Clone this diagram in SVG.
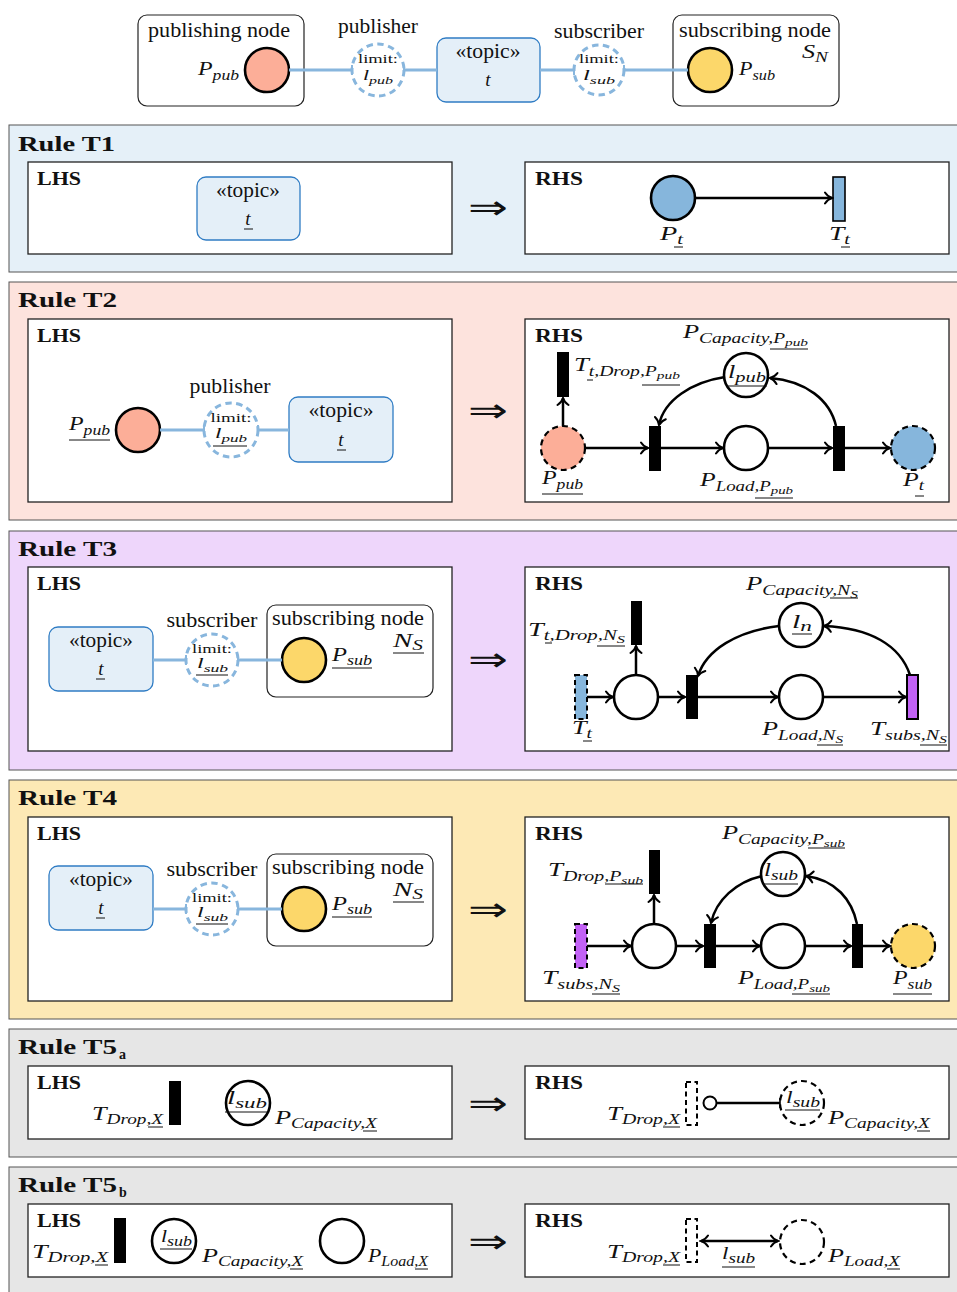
<svg xmlns="http://www.w3.org/2000/svg" width="957" height="1292" viewBox="0 0 957 1292">
<style>
  .r{font-family:"Liberation Serif","Times New Roman",serif;font-size:20px;fill:#111}
  .m{font-family:"Liberation Serif","Times New Roman",serif;font-size:19px;font-style:italic;fill:#111}
  .ms{font-size:15px}
  .s1{font-size:14px}
  .s2{font-size:11px}
  .lim{font-family:"Liberation Serif","Times New Roman",serif;font-size:13px;fill:#111}
  .h{font-family:"Liberation Serif","Times New Roman",serif;font-size:22px;font-weight:bold;fill:#111}
  .lh{font-family:"Liberation Serif","Times New Roman",serif;font-size:18px;font-weight:bold;fill:#111}
  .imp{font-family:"DejaVu Sans",sans-serif;font-size:34px;fill:#111}
  .sec{stroke:#555;stroke-width:1}
  .box{fill:#fff;stroke:#222;stroke-width:1.3}
  .node{fill:#fff;stroke:#222;stroke-width:1.2}
  .topic{fill:#e4eff8;stroke:#2f7cc4;stroke-width:1.3}
  .pl{stroke:#000;stroke-width:2.6}
  .pld{stroke:#000;stroke-width:2.2;stroke-dasharray:6 4.2}
  .tr{fill:#000}
  .trd{stroke:#000;stroke-width:2;stroke-dasharray:5 3.5}
  .lim-c{fill:#fff;stroke:#88b6dd;stroke-width:3;stroke-dasharray:6.5 4.5}
  .bl{stroke:#88b6dd;stroke-width:3;fill:none}
  .tick{stroke:#88b6dd;stroke-width:2}
  .arc{stroke:#000;stroke-width:2.5;fill:none;marker-end:url(#ah)}
  .ul{stroke:#111;stroke-width:1}
  .pub{fill:#fcae98}
  .sub{fill:#fcd76a}
  .top{fill:#86b6dc}
  .prp{fill:#c262f5}
</style>
<defs>
  <marker id="ah" viewBox="-9 -7 11 14" refX="0" refY="0" markerWidth="11" markerHeight="14" markerUnits="userSpaceOnUse" orient="auto-start-reverse">
    <path d="M-7,-5.5 C-5,-2.5 -2,-0.6 0,0 C-2,0.6 -5,2.5 -7,5.5" fill="none" stroke="#000" stroke-width="2" stroke-linecap="round"/>
  </marker>
</defs>

<rect width="957" height="1292" fill="#fff"/>

<!-- ===== legend: publisher / topic / subscriber ===== -->
<g id="legend">
  <g id="publishing-node">
    <rect class="node" x="138" y="15" width="166" height="91" rx="9"/>
    <text class="r" x="219" y="37" text-anchor="middle" textLength="142" lengthAdjust="spacingAndGlyphs">publishing node</text>
    <circle class="pub pl" cx="267" cy="70" r="22"/>
    <text class="m" x="198" y="75" textLength="41" lengthAdjust="spacingAndGlyphs">P<tspan class="s1" dy="5">pub</tspan></text>
  </g>
  <g id="publisher">
    <text class="r" x="378" y="33" text-anchor="middle" textLength="80" lengthAdjust="spacingAndGlyphs">publisher</text>
    <circle class="lim-c" cx="378" cy="70" r="26"/>
    <text class="lim" x="378" y="63" text-anchor="middle" textLength="40" lengthAdjust="spacingAndGlyphs">limit:</text>
    <text class="m ms" x="363" y="80" textLength="30" lengthAdjust="spacingAndGlyphs">l<tspan class="s2" dy="4">pub</tspan></text>
  </g>
  <g id="topic">
    <rect class="topic" x="437" y="38" width="103" height="64" rx="9"/>
    <text class="r" x="488" y="58" text-anchor="middle" textLength="65" lengthAdjust="spacingAndGlyphs">«topic»</text>
    <text class="m" x="488" y="86" text-anchor="middle">t</text>
  </g>
  <g id="subscriber">
    <text class="r" x="599" y="38" text-anchor="middle" textLength="90" lengthAdjust="spacingAndGlyphs">subscriber</text>
    <circle class="lim-c" cx="599" cy="70" r="25"/>
    <text class="lim" x="599" y="63" text-anchor="middle" textLength="40" lengthAdjust="spacingAndGlyphs">limit:</text>
    <text class="m ms" x="583" y="80" textLength="32" lengthAdjust="spacingAndGlyphs">l<tspan class="s2" dy="4">sub</tspan></text>
  </g>
  <g id="subscribing-node">
    <rect class="node" x="673" y="15" width="166" height="91" rx="9"/>
    <text class="r" x="755" y="37" text-anchor="middle" textLength="152" lengthAdjust="spacingAndGlyphs">subscribing node</text>
    <text class="m" x="802" y="58" textLength="26" lengthAdjust="spacingAndGlyphs">S<tspan class="s1" dy="4">N</tspan></text>
    <circle class="sub pl" cx="710" cy="70" r="22"/>
    <text class="m" x="739" y="75" textLength="36" lengthAdjust="spacingAndGlyphs">P<tspan class="s1" dy="5">sub</tspan></text>
  </g>
  <g id="legend-connectors">
    <line class="bl" x1="289" y1="70" x2="352" y2="70"/><line class="tick" x1="352" y1="65" x2="352" y2="75"/>
    <line class="bl" x1="404" y1="70" x2="437" y2="70"/><line class="tick" x1="404" y1="65" x2="404" y2="75"/>
    <line class="bl" x1="540" y1="70" x2="574" y2="70"/><line class="tick" x1="574" y1="65" x2="574" y2="75"/>
    <line class="bl" x1="624" y1="70" x2="688" y2="70"/><line class="tick" x1="624" y1="65" x2="624" y2="75"/>
  </g>
</g>

<!-- ===== Rule T1 ===== -->
<g id="rule-t1">
  <rect class="sec" x="9" y="125" width="960" height="147" fill="#e5f0f8"/>
  <text class="h" x="18" y="151" textLength="97" lengthAdjust="spacingAndGlyphs">Rule T1</text>
  <rect class="box" x="28" y="162" width="424" height="92"/>
  <text class="lh" x="37" y="185" textLength="44" lengthAdjust="spacingAndGlyphs">LHS</text>
  <g id="t1-topic">
    <rect class="topic" x="197" y="177" width="103" height="63" rx="9"/>
    <text class="r" x="248" y="197" text-anchor="middle" textLength="64" lengthAdjust="spacingAndGlyphs">«topic»</text>
    <text class="m" x="248" y="225" text-anchor="middle">t</text>
    <line class="ul" x1="244" y1="229" x2="253" y2="229"/>
  </g>
  <text class="imp" x="488" y="219" text-anchor="middle" textLength="40" lengthAdjust="spacingAndGlyphs">⇒</text>
  <rect class="box" x="525" y="162" width="424" height="92"/>
  <text class="lh" x="535" y="185" textLength="48" lengthAdjust="spacingAndGlyphs">RHS</text>
  <g id="t1-place-t">
    <circle class="top pl" cx="673" cy="198" r="22"/>
    <text class="m" x="660" y="240" textLength="23" lengthAdjust="spacingAndGlyphs">P<tspan class="s1" dy="4">t</tspan></text>
    <line class="ul" x1="674" y1="247" x2="683" y2="247"/>
  </g>
  <g id="t1-trans-t">
    <rect class="top" x="833" y="177" width="12" height="44" stroke="#000" stroke-width="1.6"/>
    <text class="m" x="829" y="240" textLength="21" lengthAdjust="spacingAndGlyphs">T<tspan class="s1" dy="4">t</tspan></text>
    <line class="ul" x1="841" y1="247" x2="850" y2="247"/>
  </g>
  <g id="t1-connectors">
    <line class="arc" x1="695" y1="198" x2="832" y2="198"/>
  </g>
</g>

<!-- ===== Rule T2 ===== -->
<g id="rule-t2">
  <rect class="sec" x="9" y="282" width="960" height="238" fill="#fde3dd"/>
  <text class="h" x="18" y="307" textLength="99" lengthAdjust="spacingAndGlyphs">Rule T2</text>
  <rect class="box" x="28" y="319" width="424" height="183"/>
  <text class="lh" x="37" y="342" textLength="44" lengthAdjust="spacingAndGlyphs">LHS</text>
  <g id="t2-pub">
    <circle class="pub pl" cx="138" cy="430" r="22"/>
    <text class="m" x="69" y="430" textLength="41" lengthAdjust="spacingAndGlyphs">P<tspan class="s1" dy="5">pub</tspan></text>
    <line class="ul" x1="69" y1="440" x2="110" y2="440"/>
  </g>
  <g id="t2-publisher">
    <text class="r" x="230" y="393" text-anchor="middle" textLength="81" lengthAdjust="spacingAndGlyphs">publisher</text>
    <circle class="lim-c" cx="231" cy="430" r="27"/>
    <text class="lim" x="231" y="422" text-anchor="middle" textLength="41" lengthAdjust="spacingAndGlyphs">limit:</text>
    <text class="m ms" x="215" y="438" textLength="32" lengthAdjust="spacingAndGlyphs">l<tspan class="s2" dy="4">pub</tspan></text>
    <line class="ul" x1="213" y1="446" x2="247" y2="446"/>
  </g>
  <g id="t2-topic">
    <rect class="topic" x="289" y="397" width="104" height="65" rx="9"/>
    <text class="r" x="341" y="417" text-anchor="middle" textLength="65" lengthAdjust="spacingAndGlyphs">«topic»</text>
    <text class="m" x="341" y="446" text-anchor="middle">t</text>
    <line class="ul" x1="337" y1="450" x2="346" y2="450"/>
  </g>
  <g id="t2-lhs-connectors">
    <line class="bl" x1="160" y1="430" x2="204" y2="430"/><line class="tick" x1="204" y1="425" x2="204" y2="435"/>
    <line class="bl" x1="258" y1="430" x2="289" y2="430"/><line class="tick" x1="258" y1="425" x2="258" y2="435"/>
  </g>
  <text class="imp" x="488" y="422" text-anchor="middle" textLength="40" lengthAdjust="spacingAndGlyphs">⇒</text>
  <rect class="box" x="525" y="319" width="424" height="183"/>
  <text class="lh" x="535" y="342" textLength="48" lengthAdjust="spacingAndGlyphs">RHS</text>
  <g id="t2-drop">
    <rect class="tr" x="557" y="352" width="12" height="45"/>
    <text class="m" x="574" y="371" textLength="106" lengthAdjust="spacingAndGlyphs">T<tspan class="s1" dy="5">t,Drop,P</tspan><tspan class="s2" dy="3">pub</tspan></text>
    <line class="ul" x1="587" y1="380" x2="593" y2="380"/>
    <line class="ul" x1="642" y1="385" x2="680" y2="385"/>
  </g>
  <g id="t2-p-pub">
    <circle class="pub pld" cx="563" cy="448" r="22"/>
    <text class="m" x="542" y="484" textLength="41" lengthAdjust="spacingAndGlyphs">P<tspan class="s1" dy="5">pub</tspan></text>
    <line class="ul" x1="542" y1="494" x2="583" y2="494"/>
  </g>
  <g id="t2-trans-in"><rect class="tr" x="649" y="426" width="12" height="45"/></g>
  <g id="t2-load">
    <circle class="pl" fill="#fff" cx="746" cy="448" r="22"/>
    <text class="m" x="700" y="486" textLength="93" lengthAdjust="spacingAndGlyphs">P<tspan class="s1" dy="5">Load,P</tspan><tspan class="s2" dy="3">pub</tspan></text>
    <line class="ul" x1="755" y1="498" x2="793" y2="498"/>
  </g>
  <g id="t2-capacity">
    <circle class="pl" fill="#fff" cx="746" cy="375" r="22"/>
    <text class="m" x="683" y="338" textLength="125" lengthAdjust="spacingAndGlyphs">P<tspan class="s1" dy="5">Capacity,P</tspan><tspan class="s2" dy="3">pub</tspan></text>
    <line class="ul" x1="770" y1="349" x2="808" y2="349"/>
    <text class="m" x="728" y="378" style="font-size:18px" textLength="38" lengthAdjust="spacingAndGlyphs">l<tspan class="s1" dy="4">pub</tspan></text>
    <line class="ul" x1="727" y1="386" x2="767" y2="386"/>
  </g>
  <g id="t2-trans-out"><rect class="tr" x="833" y="426" width="12" height="45"/></g>
  <g id="t2-p-t">
    <circle class="top pld" cx="913" cy="448" r="22"/>
    <text class="m" x="903" y="486" textLength="21" lengthAdjust="spacingAndGlyphs">P<tspan class="s1" dy="4">t</tspan></text>
    <line class="ul" x1="915" y1="496" x2="924" y2="496"/>
  </g>
  <g id="t2-connectors">
    <line class="arc" x1="563" y1="426" x2="563" y2="398"/>
    <line class="arc" x1="585" y1="448" x2="648" y2="448"/>
    <line class="arc" x1="661" y1="448" x2="723" y2="448"/>
    <line class="arc" x1="768" y1="448" x2="832" y2="448"/>
    <line class="arc" x1="845" y1="448" x2="890" y2="448"/>
    <path class="arc" d="M725,377 C692,382 664,400 659,425"/>
    <path class="arc" d="M836,426 C830,400 806,381 770,378"/>
  </g>
</g>

<!-- ===== Rule T3 ===== -->
<g id="rule-t3">
  <rect class="sec" x="9" y="531" width="960" height="239" fill="#eed6fb"/>
  <text class="h" x="18" y="556" textLength="99" lengthAdjust="spacingAndGlyphs">Rule T3</text>
  <rect class="box" x="28" y="567" width="424" height="184"/>
  <text class="lh" x="37" y="590" textLength="44" lengthAdjust="spacingAndGlyphs">LHS</text>
  <g id="t3-topic">
    <rect class="topic" x="49" y="627" width="104" height="64" rx="9"/>
    <text class="r" x="101" y="647" text-anchor="middle" textLength="64" lengthAdjust="spacingAndGlyphs">«topic»</text>
    <text class="m" x="101" y="675" text-anchor="middle">t</text>
    <line class="ul" x1="96" y1="679" x2="105" y2="679"/>
  </g>
  <g id="t3-subscriber">
    <text class="r" x="212" y="627" text-anchor="middle" textLength="91" lengthAdjust="spacingAndGlyphs">subscriber</text>
    <circle class="lim-c" cx="212" cy="660" r="26"/>
    <text class="lim" x="212" y="653" text-anchor="middle" textLength="40" lengthAdjust="spacingAndGlyphs">limit:</text>
    <text class="m ms" x="197" y="668" textLength="31" lengthAdjust="spacingAndGlyphs">l<tspan class="s2" dy="4">sub</tspan></text>
    <line class="ul" x1="196" y1="675" x2="228" y2="675"/>
  </g>
  <g id="t3-subscribing-node">
    <rect class="node" x="267" y="605" width="166" height="92" rx="9"/>
    <text class="r" x="348" y="625" text-anchor="middle" textLength="152" lengthAdjust="spacingAndGlyphs">subscribing node</text>
    <text class="m" x="393" y="647" textLength="30" lengthAdjust="spacingAndGlyphs">N<tspan class="s1" dy="3">S</tspan></text>
    <line class="ul" x1="393" y1="653" x2="424" y2="653"/>
    <circle class="sub pl" cx="304" cy="660" r="22"/>
    <text class="m" x="332" y="661" textLength="40" lengthAdjust="spacingAndGlyphs">P<tspan class="s1" dy="4">sub</tspan></text>
    <line class="ul" x1="332" y1="668" x2="372" y2="668"/>
  </g>
  <g id="t3-lhs-connectors">
    <line class="bl" x1="153" y1="660" x2="186" y2="660"/><line class="tick" x1="186" y1="655" x2="186" y2="665"/>
    <line class="bl" x1="238" y1="660" x2="282" y2="660"/><line class="tick" x1="238" y1="655" x2="238" y2="665"/>
  </g>
  <text class="imp" x="488" y="671" text-anchor="middle" textLength="40" lengthAdjust="spacingAndGlyphs">⇒</text>
  <rect class="box" x="525" y="567" width="424" height="184"/>
  <text class="lh" x="535" y="590" textLength="48" lengthAdjust="spacingAndGlyphs">RHS</text>
  <g id="t3-trans-t">
    <rect class="top trd" x="575" y="675" width="12" height="44"/>
    <text class="m" x="572" y="734" textLength="20" lengthAdjust="spacingAndGlyphs">T<tspan class="s1" dy="4">t</tspan></text>
    <line class="ul" x1="583" y1="741" x2="592" y2="741"/>
  </g>
  <g id="t3-buffer"><circle class="pl" fill="#fff" cx="636" cy="697" r="22"/></g>
  <g id="t3-drop">
    <rect class="tr" x="631" y="601" width="11" height="44"/>
    <text class="m" x="528" y="636" textLength="97" lengthAdjust="spacingAndGlyphs">T<tspan class="s1" dy="4">t,Drop,N</tspan><tspan class="s2" dy="3">S</tspan></text>
    <line class="ul" x1="545" y1="643" x2="552" y2="643"/>
    <line class="ul" x1="597" y1="646" x2="625" y2="646"/>
  </g>
  <g id="t3-trans-in"><rect class="tr" x="686" y="675" width="12" height="44"/></g>
  <g id="t3-load">
    <circle class="pl" fill="#fff" cx="801" cy="697" r="22"/>
    <text class="m" x="762" y="735" textLength="81" lengthAdjust="spacingAndGlyphs">P<tspan class="s1" dy="5">Load,N</tspan><tspan class="s2" dy="3">S</tspan></text>
    <line class="ul" x1="817" y1="745" x2="843" y2="745"/>
  </g>
  <g id="t3-capacity">
    <circle class="pl" fill="#fff" cx="801" cy="625" r="22"/>
    <text class="m" x="746" y="590" textLength="112" lengthAdjust="spacingAndGlyphs">P<tspan class="s1" dy="5">Capacity,N</tspan><tspan class="s2" dy="3">S</tspan></text>
    <line class="ul" x1="830" y1="598" x2="858" y2="598"/>
    <text class="m" x="792" y="628" style="font-size:18px" textLength="20" lengthAdjust="spacingAndGlyphs">l<tspan class="s1" dy="3">n</tspan></text>
    <line class="ul" x1="792" y1="634" x2="812" y2="634"/>
  </g>
  <g id="t3-subs">
    <rect class="prp" x="907" y="675" width="11" height="44" stroke="#000" stroke-width="2"/>
    <text class="m" x="870" y="735" textLength="77" lengthAdjust="spacingAndGlyphs">T<tspan class="s1" dy="5">subs,N</tspan><tspan class="s2" dy="3">S</tspan></text>
    <line class="ul" x1="920" y1="745" x2="947" y2="745"/>
  </g>
  <g id="t3-connectors">
    <line class="arc" x1="587" y1="697" x2="613" y2="697"/>
    <line class="arc" x1="636" y1="675" x2="636" y2="646"/>
    <line class="arc" x1="658" y1="697" x2="685" y2="697"/>
    <line class="arc" x1="698" y1="697" x2="778" y2="697"/>
    <line class="arc" x1="823" y1="697" x2="906" y2="697"/>
    <path class="arc" d="M779,626 C737,631 706,650 698,676"/>
    <path class="arc" d="M910,675 C900,645 870,628 824,626"/>
  </g>
</g>

<!-- ===== Rule T4 ===== -->
<g id="rule-t4">
  <rect class="sec" x="9" y="780" width="960" height="239" fill="#fde9b5"/>
  <text class="h" x="18" y="805" textLength="99" lengthAdjust="spacingAndGlyphs">Rule T4</text>
  <rect class="box" x="28" y="817" width="424" height="184"/>
  <text class="lh" x="37" y="840" textLength="44" lengthAdjust="spacingAndGlyphs">LHS</text>
  <g id="t4-topic">
    <rect class="topic" x="49" y="866" width="104" height="64" rx="9"/>
    <text class="r" x="101" y="886" text-anchor="middle" textLength="64" lengthAdjust="spacingAndGlyphs">«topic»</text>
    <text class="m" x="101" y="914" text-anchor="middle">t</text>
    <line class="ul" x1="96" y1="918" x2="105" y2="918"/>
  </g>
  <g id="t4-subscriber">
    <text class="r" x="212" y="876" text-anchor="middle" textLength="91" lengthAdjust="spacingAndGlyphs">subscriber</text>
    <circle class="lim-c" cx="212" cy="909" r="26"/>
    <text class="lim" x="212" y="902" text-anchor="middle" textLength="40" lengthAdjust="spacingAndGlyphs">limit:</text>
    <text class="m ms" x="197" y="917" textLength="31" lengthAdjust="spacingAndGlyphs">l<tspan class="s2" dy="4">sub</tspan></text>
    <line class="ul" x1="196" y1="924" x2="228" y2="924"/>
  </g>
  <g id="t4-subscribing-node">
    <rect class="node" x="267" y="854" width="166" height="92" rx="9"/>
    <text class="r" x="348" y="874" text-anchor="middle" textLength="152" lengthAdjust="spacingAndGlyphs">subscribing node</text>
    <text class="m" x="393" y="896" textLength="30" lengthAdjust="spacingAndGlyphs">N<tspan class="s1" dy="3">S</tspan></text>
    <line class="ul" x1="393" y1="902" x2="424" y2="902"/>
    <circle class="sub pl" cx="304" cy="909" r="22"/>
    <text class="m" x="332" y="910" textLength="40" lengthAdjust="spacingAndGlyphs">P<tspan class="s1" dy="4">sub</tspan></text>
    <line class="ul" x1="332" y1="917" x2="372" y2="917"/>
  </g>
  <g id="t4-lhs-connectors">
    <line class="bl" x1="153" y1="909" x2="186" y2="909"/><line class="tick" x1="186" y1="904" x2="186" y2="914"/>
    <line class="bl" x1="238" y1="909" x2="282" y2="909"/><line class="tick" x1="238" y1="904" x2="238" y2="914"/>
  </g>
  <text class="imp" x="488" y="921" text-anchor="middle" textLength="40" lengthAdjust="spacingAndGlyphs">⇒</text>
  <rect class="box" x="525" y="817" width="424" height="184"/>
  <text class="lh" x="535" y="840" textLength="48" lengthAdjust="spacingAndGlyphs">RHS</text>
  <g id="t4-subs">
    <rect class="prp trd" x="575" y="924" width="12" height="44"/>
    <text class="m" x="542" y="984" textLength="78" lengthAdjust="spacingAndGlyphs">T<tspan class="s1" dy="5">subs,N</tspan><tspan class="s2" dy="3">S</tspan></text>
    <line class="ul" x1="592" y1="994" x2="620" y2="994"/>
  </g>
  <g id="t4-buffer"><circle class="pl" fill="#fff" cx="654" cy="946" r="22"/></g>
  <g id="t4-drop">
    <rect class="tr" x="649" y="850" width="11" height="44"/>
    <text class="m" x="548" y="876" textLength="95" lengthAdjust="spacingAndGlyphs">T<tspan class="s1" dy="5">Drop,P</tspan><tspan class="s2" dy="3">sub</tspan></text>
    <line class="ul" x1="605" y1="884" x2="643" y2="884"/>
  </g>
  <g id="t4-trans-in"><rect class="tr" x="704" y="924" width="12" height="44"/></g>
  <g id="t4-load">
    <circle class="pl" fill="#fff" cx="783" cy="946" r="22"/>
    <text class="m" x="738" y="984" textLength="92" lengthAdjust="spacingAndGlyphs">P<tspan class="s1" dy="5">Load,P</tspan><tspan class="s2" dy="3">sub</tspan></text>
    <line class="ul" x1="792" y1="994" x2="830" y2="994"/>
  </g>
  <g id="t4-capacity">
    <circle class="pl" fill="#fff" cx="783" cy="874" r="22"/>
    <text class="m" x="722" y="839" textLength="123" lengthAdjust="spacingAndGlyphs">P<tspan class="s1" dy="5">Capacity,P</tspan><tspan class="s2" dy="3">sub</tspan></text>
    <line class="ul" x1="808" y1="848" x2="845" y2="848"/>
    <text class="m" x="764" y="876" style="font-size:18px" textLength="34" lengthAdjust="spacingAndGlyphs">l<tspan class="s1" dy="4">sub</tspan></text>
    <line class="ul" x1="763" y1="884" x2="798" y2="884"/>
  </g>
  <g id="t4-trans-out"><rect class="tr" x="852" y="924" width="11" height="44"/></g>
  <g id="t4-p-sub">
    <circle class="sub pld" cx="913" cy="946" r="22"/>
    <text class="m" x="893" y="984" textLength="39" lengthAdjust="spacingAndGlyphs">P<tspan class="s1" dy="5">sub</tspan></text>
    <line class="ul" x1="893" y1="994" x2="932" y2="994"/>
  </g>
  <g id="t4-connectors">
    <line class="arc" x1="587" y1="946" x2="631" y2="946"/>
    <line class="arc" x1="654" y1="924" x2="654" y2="895"/>
    <line class="arc" x1="676" y1="946" x2="703" y2="946"/>
    <line class="arc" x1="716" y1="946" x2="760" y2="946"/>
    <line class="arc" x1="805" y1="946" x2="851" y2="946"/>
    <line class="arc" x1="863" y1="946" x2="890" y2="946"/>
    <path class="arc" d="M762,876 C736,882 716,900 711,923"/>
    <path class="arc" d="M857,924 C852,900 836,880 806,876"/>
  </g>
</g>

<!-- ===== Rule T5a ===== -->
<g id="rule-t5a">
  <rect class="sec" x="9" y="1029" width="960" height="128" fill="#e6e6e6"/>
  <text class="h" x="18" y="1054" textLength="99" lengthAdjust="spacingAndGlyphs">Rule T5</text>
  <text class="h" x="119" y="1059" style="font-size:14px">a</text>
  <rect class="box" x="28" y="1066" width="424" height="73"/>
  <text class="lh" x="37" y="1089" textLength="44" lengthAdjust="spacingAndGlyphs">LHS</text>
  <g id="t5a-drop">
    <rect class="tr" x="169" y="1081" width="12" height="44"/>
    <text class="m" x="92" y="1120" textLength="71" lengthAdjust="spacingAndGlyphs">T<tspan class="s1" dy="4">Drop,X</tspan></text>
    <line class="ul" x1="148" y1="1127" x2="163" y2="1127"/>
  </g>
  <g id="t5a-capacity">
    <circle class="pl" fill="#fff" cx="248" cy="1103" r="22"/>
    <text class="m" x="227" y="1104" style="font-size:18px" textLength="40" lengthAdjust="spacingAndGlyphs">l<tspan class="s1" dy="4">sub</tspan></text>
    <line class="ul" x1="225" y1="1112" x2="267" y2="1112"/>
    <text class="m" x="275" y="1124" textLength="102" lengthAdjust="spacingAndGlyphs">P<tspan class="s1" dy="4">Capacity,X</tspan></text>
    <line class="ul" x1="363" y1="1131" x2="377" y2="1131"/>
  </g>
  <text class="imp" x="488" y="1115" text-anchor="middle" textLength="40" lengthAdjust="spacingAndGlyphs">⇒</text>
  <rect class="box" x="525" y="1066" width="424" height="73"/>
  <text class="lh" x="535" y="1089" textLength="48" lengthAdjust="spacingAndGlyphs">RHS</text>
  <g id="t5a-drop-r">
    <rect class="trd" fill="none" x="686" y="1082" width="11" height="43"/>
    <text class="m" x="607" y="1120" textLength="73" lengthAdjust="spacingAndGlyphs">T<tspan class="s1" dy="4">Drop,X</tspan></text>
    <line class="ul" x1="663" y1="1127" x2="680" y2="1127"/>
  </g>
  <g id="t5a-capacity-r">
    <circle class="pld" fill="#fff" cx="802" cy="1103" r="22"/>
    <text class="m" x="786" y="1103" style="font-size:17px" textLength="34" lengthAdjust="spacingAndGlyphs">l<tspan class="s1" dy="4">sub</tspan></text>
    <line class="ul" x1="785" y1="1110" x2="820" y2="1110"/>
    <text class="m" x="828" y="1124" textLength="102" lengthAdjust="spacingAndGlyphs">P<tspan class="s1" dy="4">Capacity,X</tspan></text>
    <line class="ul" x1="917" y1="1131" x2="930" y2="1131"/>
  </g>
  <g id="t5a-connectors">
    <line x1="717" y1="1103" x2="780" y2="1103" stroke="#000" stroke-width="2.6"/>
    <line x1="780" y1="1098" x2="780" y2="1108" stroke="#000" stroke-width="1.6"/>
    <circle cx="710" cy="1103" r="6.5" fill="#fff" stroke="#000" stroke-width="2"/>
  </g>
</g>

<!-- ===== Rule T5b ===== -->
<g id="rule-t5b">
  <rect class="sec" x="9" y="1167" width="960" height="140" fill="#e6e6e6"/>
  <text class="h" x="18" y="1192" textLength="99" lengthAdjust="spacingAndGlyphs">Rule T5</text>
  <text class="h" x="119" y="1197" style="font-size:14px">b</text>
  <rect class="box" x="28" y="1204" width="424" height="73"/>
  <text class="lh" x="37" y="1227" textLength="44" lengthAdjust="spacingAndGlyphs">LHS</text>
  <g id="t5b-drop">
    <rect class="tr" x="114" y="1218" width="12" height="45"/>
    <text class="m" x="32" y="1258" textLength="76" lengthAdjust="spacingAndGlyphs">T<tspan class="s1" dy="4">Drop,X</tspan></text>
    <line class="ul" x1="95" y1="1265" x2="108" y2="1265"/>
  </g>
  <g id="t5b-capacity">
    <circle class="pl" fill="#fff" cx="174" cy="1241" r="22"/>
    <text class="m" x="161" y="1242" style="font-size:17px" textLength="31" lengthAdjust="spacingAndGlyphs">l<tspan class="s1" dy="4">sub</tspan></text>
    <line class="ul" x1="160" y1="1249" x2="192" y2="1249"/>
    <text class="m" x="202" y="1262" textLength="101" lengthAdjust="spacingAndGlyphs">P<tspan class="s1" dy="4">Capacity,X</tspan></text>
    <line class="ul" x1="290" y1="1269" x2="303" y2="1269"/>
  </g>
  <g id="t5b-load">
    <circle class="pl" fill="#fff" cx="342" cy="1241" r="22"/>
    <text class="m" x="368" y="1262" textLength="60" lengthAdjust="spacingAndGlyphs">P<tspan class="s1" dy="4">Load,X</tspan></text>
    <line class="ul" x1="415" y1="1269" x2="428" y2="1269"/>
  </g>
  <text class="imp" x="488" y="1253" text-anchor="middle" textLength="40" lengthAdjust="spacingAndGlyphs">⇒</text>
  <rect class="box" x="525" y="1204" width="424" height="73"/>
  <text class="lh" x="535" y="1227" textLength="48" lengthAdjust="spacingAndGlyphs">RHS</text>
  <g id="t5b-drop-r">
    <rect class="trd" fill="none" x="686" y="1219" width="11" height="43"/>
    <text class="m" x="607" y="1258" textLength="73" lengthAdjust="spacingAndGlyphs">T<tspan class="s1" dy="4">Drop,X</tspan></text>
    <line class="ul" x1="663" y1="1265" x2="680" y2="1265"/>
  </g>
  <g id="t5b-load-r">
    <circle class="pld" fill="#fff" cx="802" cy="1242" r="22"/>
    <text class="m" x="828" y="1262" textLength="72" lengthAdjust="spacingAndGlyphs">P<tspan class="s1" dy="4">Load,X</tspan></text>
    <line class="ul" x1="887" y1="1269" x2="900" y2="1269"/>
  </g>
  <g id="t5b-connectors">
    <line class="arc" x1="701" y1="1241" x2="778" y2="1241" style="marker-start:url(#ah)"/>
    <text class="m" x="722" y="1259" style="font-size:17px" textLength="33" lengthAdjust="spacingAndGlyphs">l<tspan class="s1" dy="4">sub</tspan></text>
    <line class="ul" x1="722" y1="1267" x2="755" y2="1267"/>
  </g>
</g>
</svg>
